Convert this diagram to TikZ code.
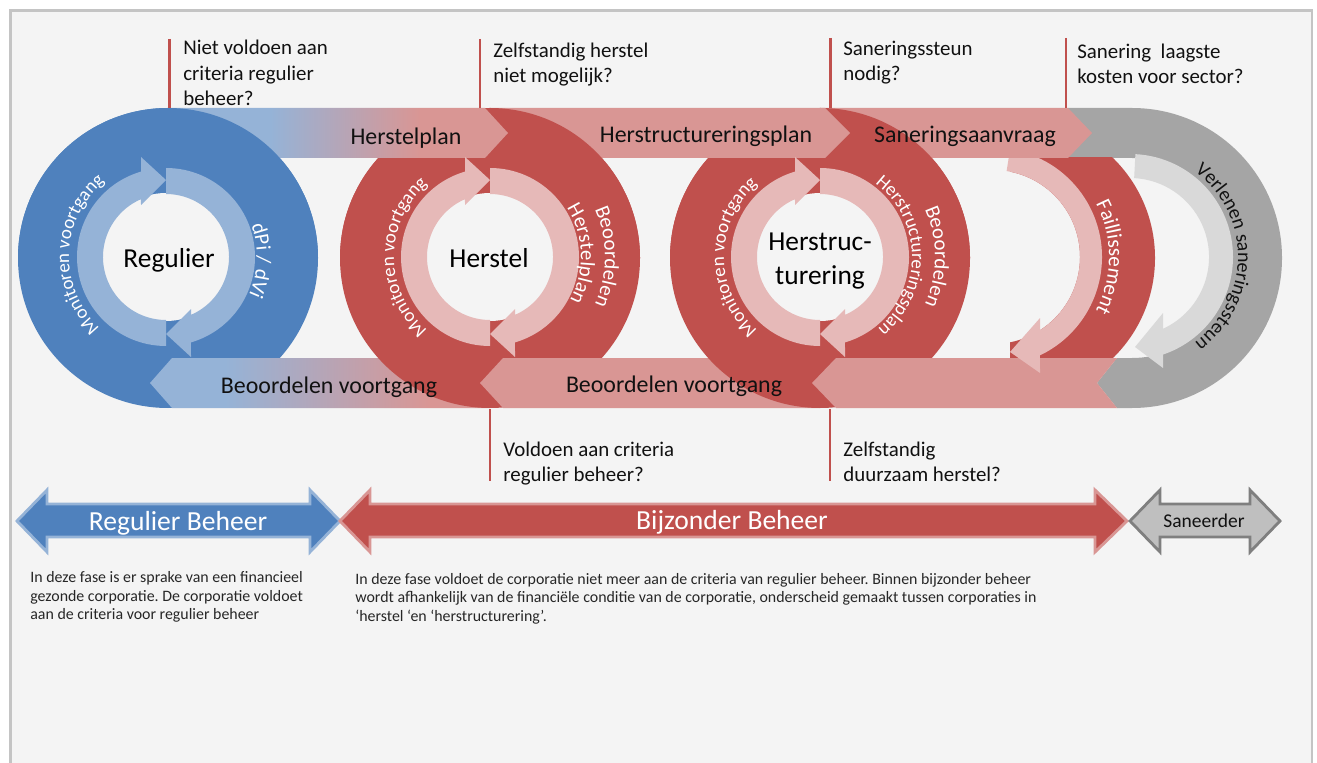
\documentclass[tikz,border=0pt]{standalone}
\usepackage{fontspec}
\setmainfont{Carlito}
\usetikzlibrary{calc,decorations.text}
\frenchspacing

\definecolor{cBlue}{HTML}{4F81BD}
\definecolor{cBlueL}{HTML}{95B3D7}
\definecolor{cRed}{HTML}{C0504D}
\definecolor{cPink}{HTML}{D99694}
\definecolor{cPinkL}{HTML}{E6B9B8}
\definecolor{cGray}{HTML}{A5A5A5}
\definecolor{cGrayL}{HTML}{D9D9D9}
\definecolor{cGrayM}{HTML}{BFBFBF}
\definecolor{cGrayD}{HTML}{7F7F7F}
\definecolor{cBg}{HTML}{F4F4F4}
\definecolor{cFrame}{HTML}{C4C4C4}
\definecolor{cTxt}{HTML}{111111}
\definecolor{cDesc}{HTML}{262626}

\pgfdeclarehorizontalshading{bandtopshade}{100bp}{color(0bp)=(cBlueL); color(40bp)=(cBlueL); color(62bp)=(cPink); color(100bp)=(cPink)}
\pgfdeclarehorizontalshading{bandbotshade}{100bp}{color(0bp)=(cBlueL); color(36bp)=(cBlueL); color(66bp)=(cPink); color(100bp)=(cPink)}

\tikzset{
  qline/.style={draw=cRed, line width=1.2pt},
  qtext/.style={anchor=base west, inner sep=0pt, text=cTxt, font=\fontsize{11.9}{14}\selectfont},
  bandlabel/.style={anchor=base, inner sep=0pt, text=cTxt, font=\fontsize{13.6}{16}\selectfont},
  hublabel/.style={anchor=base, inner sep=0pt, text=black, font=\fontsize{15.6}{18}\selectfont},
  desctext/.style={anchor=base west, inner sep=0pt, text=cDesc, font=\fontsize{9.05}{10.6}\selectfont},
  phaselabel/.style={anchor=base, inner sep=0pt, font=\fontsize{15.7}{18}\selectfont},
  dblarrow/.style={line width=1.6pt, line join=miter},
}

% top half of a hub disc
\newcommand{\hubtop}[2]{\fill[#2] ($(#1,258)+(180:150)$) arc[start angle=180,end angle=360,radius=150] -- cycle;}
% inner hole and two circular arrows
\newcommand{\hubinner}[2]{%
  \fill[cBg] (#1,257) circle[radius=64];
  \foreach \myrot in {0,180}{%
    \fill[#2, shift={(#1,257)}, rotate=\myrot] (90:89) arc[start angle=90,end angle=253.7,radius=89]
      -- (-25,-100) -- (0,-77) -- (-25,-52) -- (246.6:63) arc[start angle=246.6,end angle=90,radius=63] -- cycle;}}
% text along an arc: cx, cy, r, start, end, colour, font size, text
\newcommand{\arctext}[8]{%
  \path[decorate, decoration={text along path, text align=center, text color=#6, text={|\fontsize{#7}{14}\selectfont|#8}}]
    ($(#1,#2)+(#4:#3)$) arc[start angle=#4, end angle=#5, radius=#3];}

\begin{document}
\begin{tikzpicture}[x=0.02cm, y=-0.02cm]
\useasboundingbox (0,0) rectangle (1317,763);
\fill[white] (0,0) rectangle (1317,763);
\fill[cBg] (10.5,10.5) rectangle (1311.7,775);
\draw[cFrame, line width=1.3pt] (10.5,775) -- (10.5,10.5) -- (1311.7,10.5) -- (1311.7,775);

% ---------- gray D shape (Verlenen saneringssteun)
\fill[cGray] (1068,108) -- (1132,108) arc[start angle=-90,end angle=90,radius=150]
  -- (1117,408) -- (1097,383) -- (1117,358) -- (1132,358)
  arc[start angle=90,end angle=-90,radius=100] -- (1068,158) -- cycle;

% ---------- red half ring (Faillissement)
\begin{scope}
  \clip (1010,158) rectangle (1170,358);
  \fill[cRed, even odd rule] (1015,258) circle[radius=140] (993,257) circle[radius=87];
\end{scope}

% ---------- lower layer: discs and bottom bands
\fill[cBlue] (168,258) circle[radius=150];
\shade[shading=bandbotshade] (150,383) -- (172,358) -- (490,358) -- (490,408) -- (172,408) -- cycle;
\fill[cRed] (490,258) circle[radius=150];
\fill[cPink] (480,383) -- (503,358) -- (820,358) -- (820,408) -- (503,408) -- cycle;
\fill[cRed] (820,258) circle[radius=150];
\fill[cPink] (812,383) -- (836,358) -- (1117,358) -- (1097,383) -- (1117,408) -- (836,408) -- cycle;

% ---------- light arrows of the right part
\fill[cPinkL, shift={(993,257)}] (-81:109) arc[start angle=-81,end angle=64.5,radius=109]
  -- (47,116) -- (17,95) -- (47,61) -- (57.3:87) arc[start angle=57.3,end angle=-81,radius=87] -- cycle;
\fill[cGrayL, shift={(1130,257)}] (-87:103) arc[start angle=-87,end angle=71.3,radius=103]
  -- (33,111) -- (5,90) -- (33,56) -- (65.3:79) arc[start angle=65.3,end angle=-87,radius=79] -- cycle;

% ---------- upper layer: top bands and top halves
\fill[cPink] (820,108) -- (1068,108) -- (1092,133) -- (1068,158) -- (820,158) -- cycle;
\hubtop{820}{cRed}
\fill[cPink] (490,108) -- (825,108) -- (850,133) -- (825,158) -- (490,158) -- cycle;
\hubtop{490}{cRed}
\shade[shading=bandtopshade] (168,108) -- (485,108) -- (508,133) -- (485,158) -- (168,158) -- cycle;
\hubtop{168}{cBlue}

% ---------- inner circular arrows
\hubinner{166}{cBlueL}
\hubinner{490}{cPinkL}
\hubinner{820}{cPinkL}

% ---------- ring texts
\arctext{166}{257}{97}{102}{262}{white}{10.8}{Monitoren voortgang}
\arctext{166}{257}{91}{-78}{82}{white}{11.8}{dPi / dVi}
\arctext{490}{257}{96}{100}{260}{white}{10.8}{Monitoren voortgang}
\arctext{490}{257}{115}{-70}{70}{white}{11.8}{Beoordelen}
\arctext{490}{257}{91}{-80}{76}{white}{11.8}{Herstelplan}
\arctext{820}{257}{96}{100}{260}{white}{10.8}{Monitoren voortgang}
\arctext{820}{257}{115}{-70}{70}{white}{11.8}{Beoordelen}
\arctext{820}{257}{92}{-88}{86}{white}{10.7}{Herstructureringsplan}
\arctext{993}{257}{116}{-60}{60}{white}{12}{Faillissement}
\arctext{1132}{257}{106}{-88}{88}{cTxt}{11.3}{Verlenen saneringssteun}

% ---------- hub labels
\node[hublabel] (hub1) at (169,268) {Regulier};
\node[hublabel] (hub2) at (489,268) {Herstel};
\node[hublabel] (hub3a) at (820,251) {Herstruc-};
\node[hublabel] (hub3b) at (820,285) {turering};

% ---------- band labels
\node[bandlabel] (band1) at (406,145) {Herstelplan};
\node[bandlabel] (band2) at (706,143) {Herstructureringsplan};
\node[bandlabel] (band3) at (965,143) {Saneringsaanvraag};
\node[bandlabel] (band4) at (329,393) {Beoordelen voortgang};
\node[bandlabel] (band5) at (674,392) {Beoordelen voortgang};

% ---------- question markers
\coordinate (m1t) at (169.5,39);  \coordinate (m1b) at (169.5,108);
\coordinate (m2t) at (480,39);    \coordinate (m2b) at (480,108);
\coordinate (m3t) at (830.5,38);  \coordinate (m3b) at (830.5,108);
\coordinate (m4t) at (1066,38);   \coordinate (m4b) at (1066,108);
\coordinate (m5t) at (490,409);   \coordinate (m5b) at (490,481);
\coordinate (m6t) at (830,409);   \coordinate (m6b) at (830,481);
\draw[qline] (m1t) -- (m1b);
\draw[qline] (m2t) -- (m2b);
\draw[qline] (m3t) -- (m3b);
\draw[qline] (m4t) -- (m4b);
\draw[qline] (m5t) -- (m5b);
\draw[qline] (m6t) -- (m6b);

\node[qtext] (q1a) at (183,55) {Niet voldoen aan};
\node[qtext] (q1b) at (183,80.5) {criteria regulier};
\node[qtext] (q1c) at (183,106) {beheer?};
\node[qtext] (q2a) at (493,58) {Zelfstandig herstel};
\node[qtext] (q2b) at (493,83) {niet mogelijk?};
\node[qtext] (q3a) at (843,55.5) {Saneringssteun};
\node[qtext] (q3b) at (843,81) {nodig?};
\node[qtext] (q4a) at (1077,59) {Sanering\ \ laagste};
\node[qtext] (q4b) at (1077,83.5) {kosten voor sector?};
\node[qtext] (q5a) at (503,456) {Voldoen aan criteria};
\node[qtext] (q5b) at (503,481) {regulier beheer?};
\node[qtext] (q6a) at (843,456.5) {Zelfstandig};
\node[qtext] (q6b) at (843,481.5) {duurzaam herstel?};

% ---------- phase arrows
\path[fill=cBlue, draw=cBlueL, dblarrow] (17,521) -- (47,490) -- (47,504) -- (310,504) -- (310,490) -- (340,521)
  -- (310,552) -- (310,537) -- (47,537) -- (47,552) -- cycle;
\path[fill=cRed, draw=cPink, dblarrow] (340,521) -- (370,490) -- (370,504) -- (1095,504) -- (1095,490) -- (1127,521)
  -- (1095,552) -- (1095,537) -- (370,537) -- (370,552) -- cycle;
\path[fill=cGrayM, draw=cGrayD, dblarrow] (1130,521) -- (1160,490) -- (1160,504) -- (1250,504) -- (1250,490) -- (1280,521)
  -- (1250,552) -- (1250,537) -- (1160,537) -- (1160,552) -- cycle;
\node[phaselabel, text=white] (ph1) at (178,530) {Regulier Beheer};
\node[phaselabel, text=white] (ph2) at (732,529) {Bijzonder Beheer};
\node[anchor=base, inner sep=0pt, font=\fontsize{11.1}{13}\selectfont, text=cTxt] (ph3) at (1204,527) {Saneerder};

% ---------- descriptions
\node[desctext] (d1a) at (30,582.5) {In deze fase is er sprake van een financieel};
\node[desctext] (d1b) at (30,601) {gezonde corporatie. De corporatie voldoet};
\node[desctext] (d1c) at (30,619.5) {aan de criteria voor regulier beheer};
\node[desctext] (d2a) at (355,584) {In deze fase voldoet de corporatie niet meer aan de criteria van regulier beheer. Binnen bijzonder beheer};
\node[desctext] (d2b) at (355,602.5) {wordt afhankelijk van de financiële conditie van de corporatie, onderscheid gemaakt tussen corporaties in};
\node[desctext] (d2c) at (355,621) {‘herstel ‘en ‘herstructurering’.};
\end{tikzpicture}
\end{document}
